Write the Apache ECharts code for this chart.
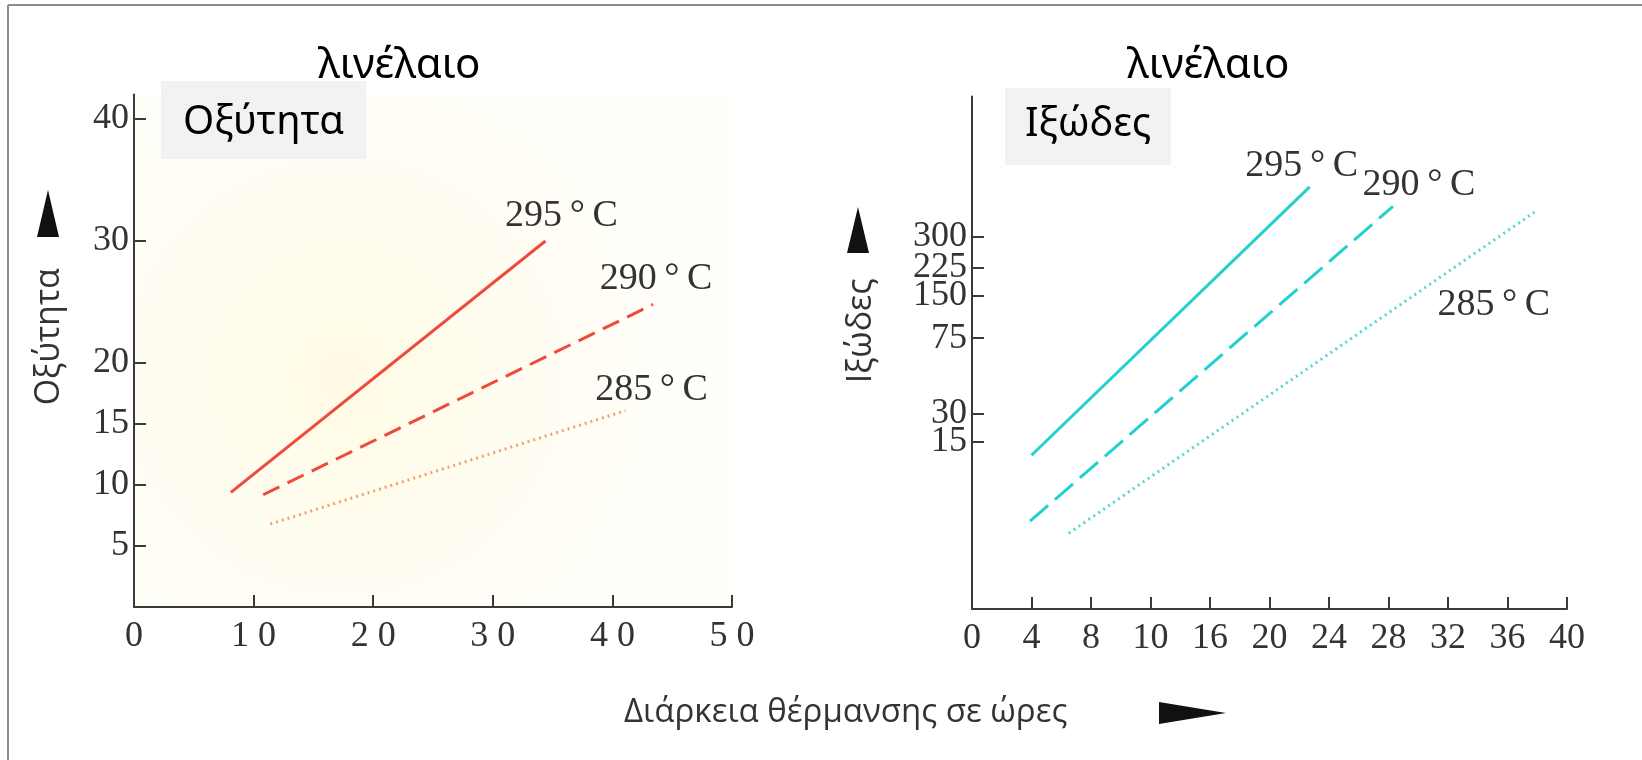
<!DOCTYPE html>
<html><head><meta charset="utf-8">
<script src="https://cdn.jsdelivr.net/npm/echarts@6/dist/echarts.min.js"></script>
<style>html,body{margin:0;padding:0;background:#fff}#c{width:1642px;height:760px}</style>
</head><body><div id="c"></div>
<script>
// ---- texts ----
const panelTitle = 'λινέλαιο';
const leftBoxTitle = 'Οξύτητα';
const rightBoxTitle = 'Ιξώδες';
const leftYName = 'Οξύτητα';
const rightYName = 'Ιξώδες';
const xName = 'Διάρκεια θέρμανσης σε ώρες';
const temps = ['295°C', '290°C', '285°C'];

// ---- left panel: acidity vs heating hours ----
const acidTicks = [5, 10, 15, 20, 30, 40];
const acid295 = [[8.1, 9.4], [34.4, 30.0]];
const acid290 = [[10.8, 9.2], [43.4, 24.8]];
const acid285 = [[11.4, 6.8], [41.1, 16.1]];

// ---- right panel: viscosity vs heating hours ----
const hourTickLabels = ['0', '4', '8', '10', '16', '20', '24', '28', '32', '36', '40'];
const viscTickLabels = ['15', '30', '75', '150', '225', '300'];
const viscTickLevels = [13.7, 16.0, 22.2, 25.7, 28.0, 30.5]; // where the printed labels sit on the drawn scale
const visc295 = [[4.0, 12.6], [22.7, 34.6]];
const visc290 = [[3.9, 7.2], [28.3, 33.0]];
const visc285 = [[6.5, 6.2], [37.9, 32.6]];

const SERIF = 'Liberation Serif';
const SANS = 'Open Sans';
const CAL = 'Noto Sans';
const INK = '#3a3a3a';

function tickStyle(custom) {
  const t = { show: true, inside: true, length: 12, lineStyle: { color: INK, width: 2 } };
  if (custom) t.customValues = custom;
  return t;
}
function labelStyle(extra) {
  return Object.assign({ show: true, fontFamily: SERIF, fontSize: 36, color: '#333', margin: 12,
    hideOverlap: false, showMinLabel: true, showMaxLabel: true }, extra);
}
function viscLabel(v) {
  let best = 0;
  viscTickLevels.forEach((l, i) => { if (Math.abs(l - v) < Math.abs(viscTickLevels[best] - v)) best = i; });
  return viscTickLabels[best];
}
// alternate printed viscosity labels between two overlaid axes so none are dropped as "overlapping"
const viscLevelsA = viscTickLevels.filter((_, i) => i % 2 === 0);
const viscLevelsB = viscTickLevels.filter((_, i) => i % 2 === 1);

function tempMark(text, end, dx, dy) {
  return {
    symbol: 'circle', symbolSize: 0, silent: true,
    label: { show: true, position: 'inside', offset: [dx, dy], formatter: text,
      fontFamily: SERIF, fontSize: 38, color: '#333' },
    data: [{ coord: end }]
  };
}
function lineSeries(xi, data, color, type, label, dx, dy) {
  return {
    type: 'line', xAxisIndex: xi, yAxisIndex: xi, data: data,
    symbol: 'none', silent: true,
    lineStyle: { color: color, width: 3, type: type },
    markPoint: tempMark(label.replace('°', '\u2009°\u2009'), data[data.length - 1], dx, dy)
  };
}

const axisLine = { show: true, lineStyle: { color: INK, width: 2 } };
const nameStyle = (up) => ({ fontFamily: SANS, fontSize: 34, color: '#333', padding: [0, 0, 0, up] });

const chart = echarts.init(document.getElementById('c'), null, { renderer: 'canvas' });
chart.setOption({
  backgroundColor: '#ffffff',
  animation: false,
  title: [
    { text: panelTitle, left: 318, top: 45, padding: 0,
      textStyle: { fontFamily: CAL, fontSize: 42, fontWeight: 'normal', color: '#000', lineHeight: 42 } },
    { text: panelTitle, left: 1127, top: 45, padding: 0,
      textStyle: { fontFamily: CAL, fontSize: 42, fontWeight: 'normal', color: '#000', lineHeight: 42 } },
    { text: leftBoxTitle, left: 161, top: 81, padding: [17, 22, 11, 22], backgroundColor: '#f2f2f2',
      textStyle: { fontFamily: CAL, fontSize: 40, fontWeight: 'normal', color: '#000', lineHeight: 50 } },
    { text: rightBoxTitle, left: 1005, top: 88, padding: [12, 20, 15, 20], backgroundColor: '#f2f2f2',
      textStyle: { fontFamily: CAL, fontSize: 40, fontWeight: 'normal', color: '#000', lineHeight: 50 } },
    { text: xName, left: 624, top: 693, padding: 0,
      textStyle: { fontFamily: SANS, fontSize: 33, fontWeight: 'normal', color: '#333', lineHeight: 40 } }
  ],
  grid: [
    { left: 134, top: 94.6, width: 598, height: 512.4, show: true, borderWidth: 0,
      backgroundColor: new echarts.graphic.RadialGradient(0.35, 0.55, 0.75, [
        { offset: 0, color: 'rgba(255,251,228,1)' }, { offset: 1, color: 'rgba(255,253,244,0.4)' }]) },
    { left: 972, top: 96.6, width: 595, height: 512.4 }
  ],
  xAxis: [
    { type: 'value', gridIndex: 0, min: 0, max: 50, interval: 10, axisLine, axisTick: tickStyle(), splitLine: { show: false },
      axisLabel: labelStyle({ formatter: v => String(v).split('').join(' ') }) },
    { type: 'value', gridIndex: 1, min: 0, max: 40, interval: 4, axisLine, axisTick: tickStyle(), splitLine: { show: false },
      axisLabel: labelStyle({ formatter: v => hourTickLabels[Math.round(v / 4)] }) }
  ],
  yAxis: [
    { type: 'value', gridIndex: 0, min: 0, max: 42, axisLine, axisTick: tickStyle(acidTicks), splitLine: { show: false },
      axisLabel: labelStyle({ margin: 5, customValues: acidTicks }),
      name: leftYName, nameLocation: 'middle', nameGap: 68, nameMoveOverlap: false, nameTextStyle: nameStyle(28) },
    { type: 'value', gridIndex: 1, position: 'left', min: 0, max: 42, axisLine, axisTick: tickStyle(viscTickLevels), splitLine: { show: false },
      axisLabel: labelStyle({ margin: 5, customValues: viscLevelsA, formatter: viscLabel }),
      name: rightYName, nameLocation: 'middle', nameGap: 94, nameMoveOverlap: false, nameTextStyle: nameStyle(44) },
    { type: 'value', gridIndex: 1, position: 'left', offset: 0, min: 0, max: 42,
      axisLine: { show: false }, axisTick: { show: false }, splitLine: { show: false },
      axisLabel: labelStyle({ margin: 5, customValues: viscLevelsB, formatter: viscLabel }) }
  ],
  series: [
    lineSeries(0, acid295, '#ee4a3c', 'solid', temps[0], 16, -25),
    lineSeries(0, acid290, '#ee4a3c', [18, 9], temps[1], 3, -25),
    lineSeries(0, acid285, '#f0a268', [2, 4], temps[2], 26, -21),
    lineSeries(1, visc295, '#22d0d0', 'solid', temps[0], -8, -21),
    lineSeries(1, visc290, '#22d0d0', [24, 9], temps[1], 26, -21),
    lineSeries(1, visc285, '#4fd6d6', [2, 4], temps[2], -42, 94)
  ],
  graphic: [
    { type: 'line', silent: true, shape: { x1: 8, y1: 5, x2: 1642, y2: 5 }, style: { stroke: '#8c8c8c', lineWidth: 2 } },
    { type: 'line', silent: true, shape: { x1: 8, y1: 5, x2: 8, y2: 760 }, style: { stroke: '#8c8c8c', lineWidth: 2 } },
    { type: 'polygon', silent: true, shape: { points: [[48, 190], [37, 237], [59, 237]] }, style: { fill: '#111' } },
    { type: 'polygon', silent: true, shape: { points: [[858, 207], [847, 253], [869, 253]] }, style: { fill: '#111' } },
    { type: 'polygon', silent: true, shape: { points: [[1159, 702], [1226, 713], [1159, 724]] }, style: { fill: '#111' } }
  ]
});
</script>
</body></html>
